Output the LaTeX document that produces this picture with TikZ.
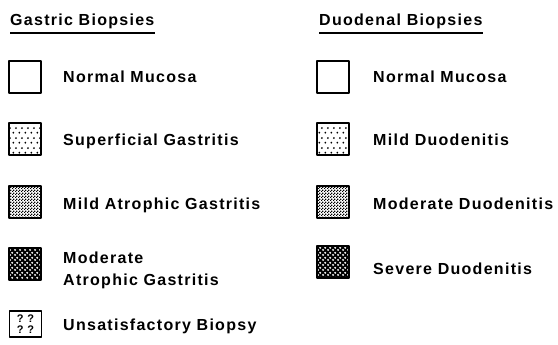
\documentclass[tikz,border=0pt]{standalone}
\usepackage{fontspec}
\setmainfont[LetterSpace=8]{Liberation Sans}
\usetikzlibrary{patterns.meta}

\newcommand{\legfont}{\fontsize{16}{22}\selectfont\bfseries}

\tikzdeclarepattern{
  name=fewdots, type=uncolored,
  bounding box={(0,0) and (6pt,10pt)},
  tile size={(6pt,10pt)},
  code={
    \fill (1.5pt,2.5pt) circle[radius=1.1pt];
    \fill (4.5pt,7.5pt) circle[radius=1.1pt];
  }
}
\tikzdeclarepattern{
  name=finechk, type=uncolored,
  bounding box={(0,0) and (3pt,3pt)},
  tile size={(3pt,3pt)},
  code={
    \fill (0,0) rectangle (1.5pt,1.5pt);
    \fill (1.5pt,1.5pt) rectangle (3pt,3pt);
  }
}
\tikzdeclarepattern{
  name=holes, type=uncolored,
  bounding box={(0,0) and (4.6pt,4.6pt)},
  tile size={(4.6pt,4.6pt)},
  code={
    \fill (1.15pt,1.15pt) circle[radius=1.2pt];
    \fill (3.45pt,3.45pt) circle[radius=1.2pt];
  }
}

\begin{document}
\begin{tikzpicture}[x=1pt,y=1pt,line join=round,
    legbox/.style={draw,line width=1.6pt,minimum width=32pt,minimum height=32pt,inner sep=0pt},
    legtext/.style={anchor=base west,inner sep=0pt,font=\legfont},
    superfill/.style={pattern=fewdots},
    mildfill/.style={pattern=finechk},
    modfill/.style={preaction={fill=black},pattern=holes,pattern color=white}]
    \useasboundingbox (0,0) rectangle (558,-345);

    % headings
    \node[legtext] (gastric) at (10,-26) {Gastric Biopsies};
    \node[legtext] (duoden) at (319,-26) {Duodenal Biopsies};
    \draw[line width=1.3pt] ([yshift=-7pt]gastric.base west) -- ([yshift=-7pt]gastric.base east);
    \draw[line width=1.3pt] ([yshift=-7pt]duoden.base west) -- ([yshift=-7pt]duoden.base east);

    % gastric column
    \node[legbox] (gnormal) at (25,-77) {};
    \node[legbox,superfill] (gsuper) at (25,-139) {};
    \node[legbox,mildfill] (gmild) at (25,-202) {};
    \node[legbox,modfill] (gmod) at (25,-264) {};
    \node[legbox,line width=1.3pt,minimum width=32pt,minimum height=26pt,
          font=\fontsize{11}{11}\selectfont\bfseries,align=center] (gunsat) at (25.5,-324) {?\,\,?\\?\,\,?};

    \node[legtext] (gnormaltxt) at (63,-83) {Normal Mucosa};
    \node[legtext] (gsupertxt) at (63,-146) {Superficial Gastritis};
    \node[legtext] (gmildtxt) at (63,-209) {Mild Atrophic Gastritis};
    \node[legtext] (gmodtxt) at (63,-263) {Moderate};
    \node[legtext] (gmodtxtb) at (63,-285) {Atrophic Gastritis};
    \node[legtext] (gunsattxt) at (63,-330) {Unsatisfactory Biopsy};

    % duodenal column
    \node[legbox] (dnormal) at (333,-77) {};
    \node[legbox,superfill] (dmild) at (333,-139) {};
    \node[legbox,mildfill] (dmod) at (333,-202) {};
    \node[legbox,modfill] (dsev) at (333,-262) {};

    \node[legtext] (dnormaltxt) at (373,-83) {Normal Mucosa};
    \node[legtext] (dmildtxt) at (373,-146) {Mild Duodenitis};
    \node[legtext] (dmodtxt) at (373,-209) {Moderate Duodenitis};
    \node[legtext] (dsevtxt) at (373,-274) {Severe Duodenitis};
\end{tikzpicture}
\end{document}
